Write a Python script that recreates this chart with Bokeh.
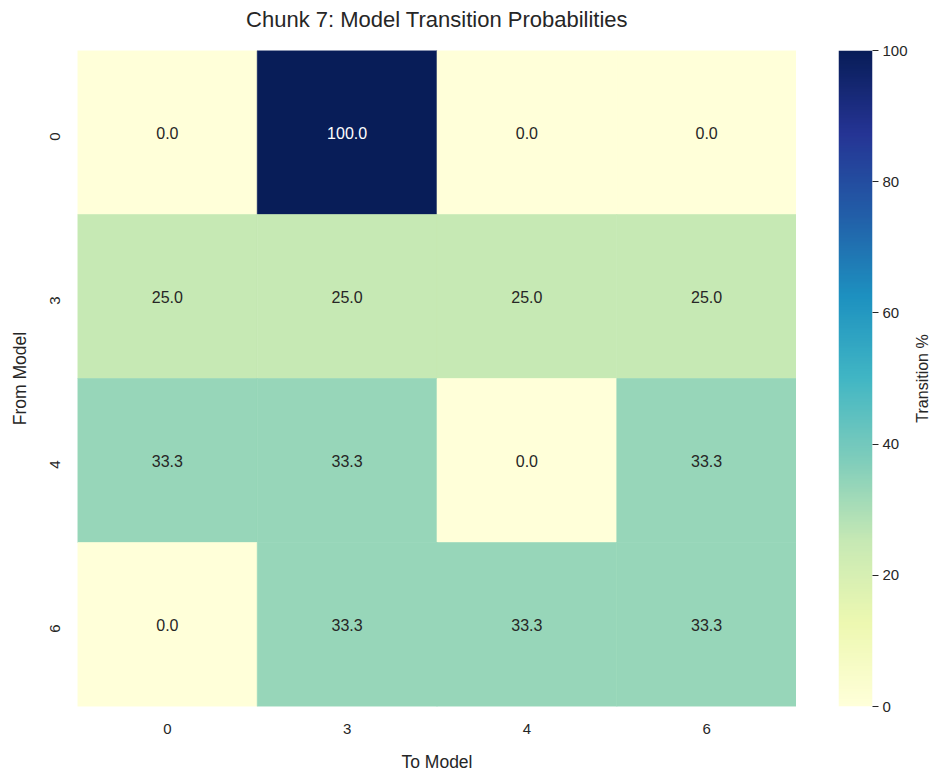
import math
import numpy as np
from bokeh.plotting import figure
from bokeh.layouts import row
from bokeh.models import (ColumnDataSource, LinearColorMapper, FactorRange, Range1d,
                          FixedTicker, CategoricalAxis)
from bokeh.transform import transform
from bokeh.core.properties import value
from bokeh.embed import file_html
from bokeh.resources import INLINE

# ---- data ----
from_models = ["0", "3", "4", "6"]
to_models = ["0", "3", "4", "6"]
row_0 = [0.0, 100.0, 0.0, 0.0]
row_3 = [25.0, 25.0, 25.0, 25.0]
row_4 = [33.3, 33.3, 0.0, 33.3]
row_6 = [0.0, 33.3, 33.3, 33.3]
cbar_ticks = [0, 20, 40, 60, 80, 100]

matrix = [row_0, row_3, row_4, row_6]

# YlGnBu (matplotlib definition = 9 brewer colors, linearly interpolated)
ylgnbu9 = ['#ffffd9', '#edf8b1', '#c7e9b4', '#7fcdbb', '#41b6c4',
           '#1d91c0', '#225ea8', '#253494', '#081d58']
def _rgb(h):
    return [int(h[i:i + 2], 16) for i in (1, 3, 5)]
anchors = np.array([_rgb(c) for c in ylgnbu9], dtype=float)
pos = np.linspace(0, 1, len(ylgnbu9))
t = np.linspace(0, 1, 256)
pal = []
for tt in t:
    r = np.interp(tt, pos, anchors[:, 0]); g = np.interp(tt, pos, anchors[:, 1]); b = np.interp(tt, pos, anchors[:, 2])
    pal.append('#%02x%02x%02x' % (int(round(r)), int(round(g)), int(round(b))))

mapper = LinearColorMapper(palette=pal, low=0, high=100)

xs, ys, vals, labels, tcolors = [], [], [], [], []
for fm, rowv in zip(from_models, matrix):
    for tm, v in zip(to_models, rowv):
        xs.append(tm); ys.append(fm); vals.append(v)
        labels.append(f"{v:.1f}")
        tcolors.append("#ffffff" if v > 60 else "#262626")
src = ColumnDataSource(dict(x=xs, y=ys, v=vals, label=labels, tc=tcolors))

FONT = "Liberation Sans"
TXT = "#262626"

p = figure(frame_width=719, frame_height=656,
           x_range=FactorRange(*to_models),
           y_range=FactorRange(*reversed(from_models)),
           output_backend="svg", toolbar_location=None,
           min_border_left=77, min_border_right=0,
           min_border_top=50, min_border_bottom=0)
p.rect(x="x", y="y", width=1, height=1, source=src,
       fill_color=transform("v", mapper),
       line_color=transform("v", mapper), line_width=0.6)
p.text(x="x", y="y", text="label", source=src, text_color="tc",
       text_align="center", text_baseline="middle",
       text_font=value(FONT), text_font_size="16px")

p.outline_line_color = None
p.grid.grid_line_color = None
xa = p.below[0]
yax = p.left[0]
for ax in (xa, yax):
    ax.axis_line_color = None
    ax.major_tick_line_color = None
    ax.minor_tick_line_color = None
    ax.major_tick_out = 0
    ax.major_tick_in = 0
    ax.major_label_text_font = FONT
    ax.major_label_text_font_size = "15px"
    ax.major_label_text_color = TXT
    ax.axis_label_text_font = FONT
    ax.axis_label_text_font_size = "17.5px"
    ax.axis_label_text_font_style = "normal"
    ax.axis_label_text_color = TXT
xa.axis_label = "To Model"
xa.major_label_standoff = 17
xa.axis_label_standoff = 15
yax.axis_label = "From Model"
yax.major_label_standoff = 23
yax.axis_label_standoff = 12
yax.major_label_orientation = math.pi / 2

# invisible spacer between the title and the heatmap
spacer = CategoricalAxis(major_tick_out=16, major_tick_in=0,
                         major_tick_line_color=None, axis_line_color=None,
                         major_label_standoff=0, major_label_text_font_size="0px",
                         major_label_text_alpha=0,
                         minor_tick_line_color=None)
p.add_layout(spacer, "above")

p.title.text = "Chunk 7: Model Transition Probabilities"
p.title.align = "center"
p.title.text_font = FONT
p.title.text_font_size = "22px"
p.title.text_font_style = "normal"
p.title.text_color = TXT
p.title.standoff = 6

# ---- colorbar as its own figure ----
grad = np.linspace(0, 100, 256).reshape(256, 1)
cb = figure(frame_width=34, frame_height=656, x_range=Range1d(0, 1), y_range=Range1d(0, 100),
            output_backend="svg", toolbar_location=None,
            y_axis_location="right",
            min_border_left=42, min_border_right=35,
            min_border_top=50, min_border_bottom=14)
cb.image(image=[grad], x=0, y=0, dw=1, dh=100, color_mapper=mapper)
cb.xaxis.visible = False
cb.grid.grid_line_color = None
cb.outline_line_color = None
ya = cb.yaxis[0]
ya.ticker = FixedTicker(ticks=cbar_ticks)
ya.minor_tick_line_color = None
ya.axis_line_color = None
ya.major_tick_in = 0
ya.major_tick_out = 6
ya.major_tick_line_color = TXT
ya.major_label_standoff = 4
ya.major_label_text_font = FONT
ya.major_label_text_font_size = "15px"
ya.major_label_text_color = TXT

# ---- colorbar title (reads bottom-to-top, like a left-side axis label) ----
lab = figure(frame_width=1, frame_height=656, x_range=Range1d(0, 1), y_range=Range1d(0, 100),
             output_backend="svg", toolbar_location=None,
             min_border_left=18, min_border_right=0,
             min_border_top=50, min_border_bottom=14)
lab.xaxis.visible = False
lab.grid.grid_line_color = None
lab.outline_line_color = None
la = lab.yaxis[0]
la.ticker = FixedTicker(ticks=[])
la.minor_tick_line_color = None
la.major_tick_line_color = None
la.axis_line_color = None
la.major_label_standoff = 0
la.axis_label = "Transition %"
la.axis_label_standoff = 0
la.axis_label_text_font = FONT
la.axis_label_text_font_size = "16px"
la.axis_label_text_font_style = "normal"
la.axis_label_text_color = TXT

layout = row(p, cb, lab)
open("out.html", "w").write(file_html(layout, INLINE))
